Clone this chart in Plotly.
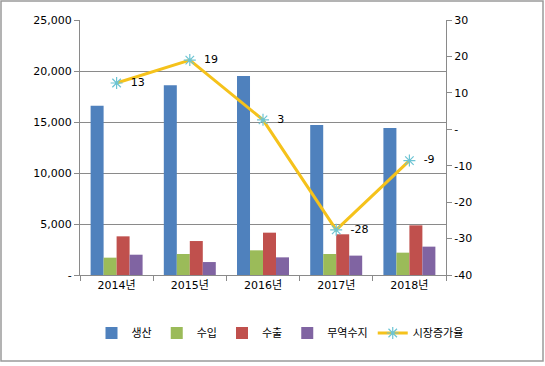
import plotly.graph_objects as go

years = ["2014년", "2015년", "2016년", "2017년", "2018년"]
production = [16600, 18600, 19500, 14700, 14400]
imports = [1700, 2060, 2420, 2060, 2190]
exports = [3790, 3330, 4150, 3990, 4870]
trade_balance = [1990, 1270, 1730, 1900, 2780]
growth = [12.7, 19.0, 2.6, -27.6, -8.6]
growth_labels = ["13", "19", "3", "-28", "-9"]

left_ticks = [0, 5000, 10000, 15000, 20000, 25000]
left_ticktext = ["-", "5,000", "10,000", "15,000", "20,000", "25,000"]
right_ticks = [-40, -30, -20, -10, 0, 10, 20, 30]
right_ticktext = ["-40", "-30", "-20", "-10", "-", "10", "20", "30"]

FONT = "DejaVu Sans, Noto Sans CJK KR, sans-serif"
GRID = "#8a8a8a"

W, H = 545, 366
ML, MR, MT, MB = 10, 10, 20, 91
GW = W - ML - MR
GH = H - MT - MB
PX0, PX1 = 80, 446  # plot area in pixels


def px(x):
    return (x - ML) / GW


def py(y):
    return (H - MB - y) / GH


fig = go.Figure()
for name, vals, col in [("생산", production, "#4F81BD"), ("수입", imports, "#9BBB59"),
                        ("수출", exports, "#C0504D"), ("무역수지", trade_balance, "#8064A2")]:
    fig.add_trace(go.Bar(x=years, y=vals, name=name, marker_color=col,
                         marker_line_width=0))

fig.add_trace(go.Scatter(x=years, y=growth, name="시장증가율", yaxis="y2",
                         mode="lines+markers+text",
                         text=["\u00a0\u00a0" + t for t in growth_labels],
                         textposition="middle right",
                         textfont=dict(size=11, color="#000000", family=FONT),
                         line=dict(color="#F5C21B", width=3),
                         marker=dict(symbol="asterisk-open", size=10,
                                     line=dict(color="#6CC4D4", width=1.2),
                                     color="#6CC4D4")))

fig.update_layout(
    width=W, height=H,
    margin=dict(l=ML, r=MR, t=MT, b=MB, autoexpand=False),
    paper_bgcolor="white", plot_bgcolor="white",
    barmode="group", bargap=0.29, bargroupgap=0,
    font=dict(family=FONT, size=10, color="#000000"),
    xaxis=dict(type="category", domain=[px(PX0), px(PX1)], showline=True,
               linecolor=GRID, ticks="outside", tickson="boundaries",
               tickcolor=GRID, ticklen=5, showgrid=False, tickfont=dict(size=11)),
    yaxis=dict(range=[0, 25000], tickvals=left_ticks, ticktext=left_ticktext,
               showgrid=True, gridcolor=GRID, gridwidth=1, showline=True,
               linecolor=GRID, ticks="outside", tickcolor=GRID, ticklen=5,
               zeroline=False, tickfont=dict(size=11)),
    yaxis2=dict(range=[-40, 30], tickvals=right_ticks, ticktext=right_ticktext,
                overlaying="y", side="right", anchor="x", showgrid=False,
                showline=True, linecolor=GRID, ticks="outside", tickcolor=GRID,
                ticklen=5, zeroline=False, tickfont=dict(size=11)),
    legend=dict(orientation="h", x=px(280), xanchor="center", y=py(333),
                yanchor="middle", font=dict(size=11), itemwidth=30,
                traceorder="normal", bgcolor="rgba(0,0,0,0)"),
    shapes=[dict(type="rect", xref="paper", yref="paper",
                 x0=px(1), x1=px(543), y0=py(361), y1=py(1),
                 line=dict(color="#9a9a9a", width=1.5), fillcolor="rgba(0,0,0,0)",
                 layer="below")],
)

fig.write_html("out.html", config={"displayModeBar": False},
               post_script="document.body.style.margin='0';document.body.style.overflow='hidden';")
